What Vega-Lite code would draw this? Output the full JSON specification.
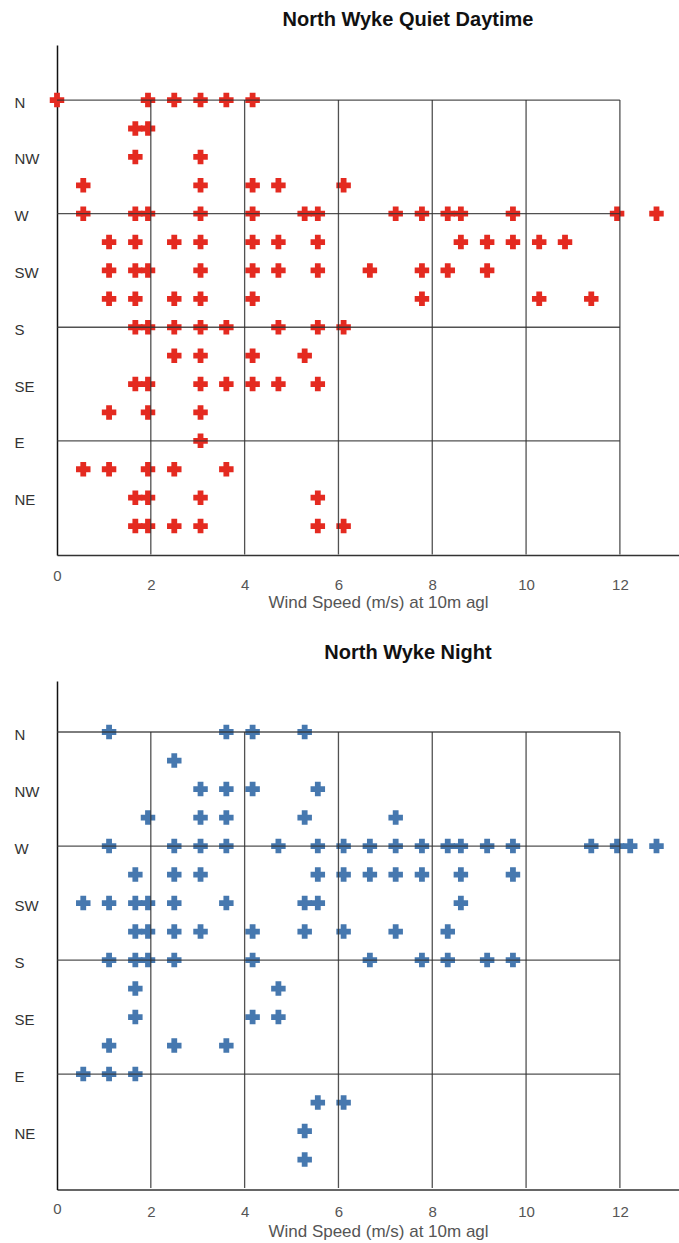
{
  "$schema": "https://vega.github.io/schema/vega-lite/v6.json",
  "background": "white",
  "padding": {"left": 14, "top": 10, "right": 0, "bottom": 4},
  "spacing": 32,
  "config": {
    "view": {"stroke": null},
    "font": "Liberation Sans",
    "title": {"font": "Liberation Sans"},
    "axis": {"labelFont": "Liberation Sans", "titleFont": "Liberation Sans"}
  },
  "datasets": {
    "day": [
      {"dir": "N", "row": 0, "speed": 0}, {"dir": "N", "row": 0, "speed": 1.94}, {"dir": "N", "row": 0, "speed": 2.5}, {"dir": "N", "row": 0, "speed": 3.06}, {"dir": "N", "row": 0, "speed": 3.61}, {"dir": "N", "row": 0, "speed": 4.17},
      {"dir": "NNW", "row": 1, "speed": 1.67}, {"dir": "NNW", "row": 1, "speed": 1.94},
      {"dir": "NW", "row": 2, "speed": 1.67}, {"dir": "NW", "row": 2, "speed": 3.06},
      {"dir": "WNW", "row": 3, "speed": 0.56}, {"dir": "WNW", "row": 3, "speed": 3.06}, {"dir": "WNW", "row": 3, "speed": 4.17}, {"dir": "WNW", "row": 3, "speed": 4.72}, {"dir": "WNW", "row": 3, "speed": 6.11},
      {"dir": "W", "row": 4, "speed": 0.56}, {"dir": "W", "row": 4, "speed": 1.67}, {"dir": "W", "row": 4, "speed": 1.94}, {"dir": "W", "row": 4, "speed": 3.06}, {"dir": "W", "row": 4, "speed": 4.17}, {"dir": "W", "row": 4, "speed": 5.28}, {"dir": "W", "row": 4, "speed": 5.56}, {"dir": "W", "row": 4, "speed": 7.22}, {"dir": "W", "row": 4, "speed": 7.78}, {"dir": "W", "row": 4, "speed": 8.33}, {"dir": "W", "row": 4, "speed": 8.61}, {"dir": "W", "row": 4, "speed": 9.72}, {"dir": "W", "row": 4, "speed": 11.94}, {"dir": "W", "row": 4, "speed": 12.78},
      {"dir": "WSW", "row": 5, "speed": 1.11}, {"dir": "WSW", "row": 5, "speed": 1.67}, {"dir": "WSW", "row": 5, "speed": 2.5}, {"dir": "WSW", "row": 5, "speed": 3.06}, {"dir": "WSW", "row": 5, "speed": 4.17}, {"dir": "WSW", "row": 5, "speed": 4.72}, {"dir": "WSW", "row": 5, "speed": 5.56}, {"dir": "WSW", "row": 5, "speed": 8.61}, {"dir": "WSW", "row": 5, "speed": 9.17}, {"dir": "WSW", "row": 5, "speed": 9.72}, {"dir": "WSW", "row": 5, "speed": 10.28}, {"dir": "WSW", "row": 5, "speed": 10.83},
      {"dir": "SW", "row": 6, "speed": 1.11}, {"dir": "SW", "row": 6, "speed": 1.67}, {"dir": "SW", "row": 6, "speed": 1.94}, {"dir": "SW", "row": 6, "speed": 3.06}, {"dir": "SW", "row": 6, "speed": 4.17}, {"dir": "SW", "row": 6, "speed": 4.72}, {"dir": "SW", "row": 6, "speed": 5.56}, {"dir": "SW", "row": 6, "speed": 6.67}, {"dir": "SW", "row": 6, "speed": 7.78}, {"dir": "SW", "row": 6, "speed": 8.33}, {"dir": "SW", "row": 6, "speed": 9.17},
      {"dir": "SSW", "row": 7, "speed": 1.11}, {"dir": "SSW", "row": 7, "speed": 1.67}, {"dir": "SSW", "row": 7, "speed": 2.5}, {"dir": "SSW", "row": 7, "speed": 3.06}, {"dir": "SSW", "row": 7, "speed": 4.17}, {"dir": "SSW", "row": 7, "speed": 7.78}, {"dir": "SSW", "row": 7, "speed": 10.28}, {"dir": "SSW", "row": 7, "speed": 11.39},
      {"dir": "S", "row": 8, "speed": 1.67}, {"dir": "S", "row": 8, "speed": 1.94}, {"dir": "S", "row": 8, "speed": 2.5}, {"dir": "S", "row": 8, "speed": 3.06}, {"dir": "S", "row": 8, "speed": 3.61}, {"dir": "S", "row": 8, "speed": 4.72}, {"dir": "S", "row": 8, "speed": 5.56}, {"dir": "S", "row": 8, "speed": 6.11},
      {"dir": "SSE", "row": 9, "speed": 2.5}, {"dir": "SSE", "row": 9, "speed": 3.06}, {"dir": "SSE", "row": 9, "speed": 4.17}, {"dir": "SSE", "row": 9, "speed": 5.28},
      {"dir": "SE", "row": 10, "speed": 1.67}, {"dir": "SE", "row": 10, "speed": 1.94}, {"dir": "SE", "row": 10, "speed": 3.06}, {"dir": "SE", "row": 10, "speed": 3.61}, {"dir": "SE", "row": 10, "speed": 4.17}, {"dir": "SE", "row": 10, "speed": 4.72}, {"dir": "SE", "row": 10, "speed": 5.56},
      {"dir": "ESE", "row": 11, "speed": 1.11}, {"dir": "ESE", "row": 11, "speed": 1.94}, {"dir": "ESE", "row": 11, "speed": 3.06},
      {"dir": "E", "row": 12, "speed": 3.06},
      {"dir": "ENE", "row": 13, "speed": 0.56}, {"dir": "ENE", "row": 13, "speed": 1.11}, {"dir": "ENE", "row": 13, "speed": 1.94}, {"dir": "ENE", "row": 13, "speed": 2.5}, {"dir": "ENE", "row": 13, "speed": 3.61},
      {"dir": "NE", "row": 14, "speed": 1.67}, {"dir": "NE", "row": 14, "speed": 1.94}, {"dir": "NE", "row": 14, "speed": 3.06}, {"dir": "NE", "row": 14, "speed": 5.56},
      {"dir": "NNE", "row": 15, "speed": 1.67}, {"dir": "NNE", "row": 15, "speed": 1.94}, {"dir": "NNE", "row": 15, "speed": 2.5}, {"dir": "NNE", "row": 15, "speed": 3.06}, {"dir": "NNE", "row": 15, "speed": 5.56}, {"dir": "NNE", "row": 15, "speed": 6.11}
    ],
    "night": [
      {"dir": "N", "row": 0, "speed": 1.11}, {"dir": "N", "row": 0, "speed": 3.61}, {"dir": "N", "row": 0, "speed": 4.17}, {"dir": "N", "row": 0, "speed": 5.28},
      {"dir": "NNW", "row": 1, "speed": 2.5},
      {"dir": "NW", "row": 2, "speed": 3.06}, {"dir": "NW", "row": 2, "speed": 3.61}, {"dir": "NW", "row": 2, "speed": 4.17}, {"dir": "NW", "row": 2, "speed": 5.56},
      {"dir": "WNW", "row": 3, "speed": 1.94}, {"dir": "WNW", "row": 3, "speed": 3.06}, {"dir": "WNW", "row": 3, "speed": 3.61}, {"dir": "WNW", "row": 3, "speed": 5.28}, {"dir": "WNW", "row": 3, "speed": 7.22},
      {"dir": "W", "row": 4, "speed": 1.11}, {"dir": "W", "row": 4, "speed": 2.5}, {"dir": "W", "row": 4, "speed": 3.06}, {"dir": "W", "row": 4, "speed": 3.61}, {"dir": "W", "row": 4, "speed": 4.72}, {"dir": "W", "row": 4, "speed": 5.56}, {"dir": "W", "row": 4, "speed": 6.11}, {"dir": "W", "row": 4, "speed": 6.67}, {"dir": "W", "row": 4, "speed": 7.22}, {"dir": "W", "row": 4, "speed": 7.78}, {"dir": "W", "row": 4, "speed": 8.33}, {"dir": "W", "row": 4, "speed": 8.61}, {"dir": "W", "row": 4, "speed": 9.17}, {"dir": "W", "row": 4, "speed": 9.72}, {"dir": "W", "row": 4, "speed": 11.39}, {"dir": "W", "row": 4, "speed": 11.94}, {"dir": "W", "row": 4, "speed": 12.22}, {"dir": "W", "row": 4, "speed": 12.78},
      {"dir": "WSW", "row": 5, "speed": 1.67}, {"dir": "WSW", "row": 5, "speed": 2.5}, {"dir": "WSW", "row": 5, "speed": 3.06}, {"dir": "WSW", "row": 5, "speed": 5.56}, {"dir": "WSW", "row": 5, "speed": 6.11}, {"dir": "WSW", "row": 5, "speed": 6.67}, {"dir": "WSW", "row": 5, "speed": 7.22}, {"dir": "WSW", "row": 5, "speed": 7.78}, {"dir": "WSW", "row": 5, "speed": 8.61}, {"dir": "WSW", "row": 5, "speed": 9.72},
      {"dir": "SW", "row": 6, "speed": 0.56}, {"dir": "SW", "row": 6, "speed": 1.11}, {"dir": "SW", "row": 6, "speed": 1.67}, {"dir": "SW", "row": 6, "speed": 1.94}, {"dir": "SW", "row": 6, "speed": 2.5}, {"dir": "SW", "row": 6, "speed": 3.61}, {"dir": "SW", "row": 6, "speed": 5.28}, {"dir": "SW", "row": 6, "speed": 5.56}, {"dir": "SW", "row": 6, "speed": 8.61},
      {"dir": "SSW", "row": 7, "speed": 1.67}, {"dir": "SSW", "row": 7, "speed": 1.94}, {"dir": "SSW", "row": 7, "speed": 2.5}, {"dir": "SSW", "row": 7, "speed": 3.06}, {"dir": "SSW", "row": 7, "speed": 4.17}, {"dir": "SSW", "row": 7, "speed": 5.28}, {"dir": "SSW", "row": 7, "speed": 6.11}, {"dir": "SSW", "row": 7, "speed": 7.22}, {"dir": "SSW", "row": 7, "speed": 8.33},
      {"dir": "S", "row": 8, "speed": 1.11}, {"dir": "S", "row": 8, "speed": 1.67}, {"dir": "S", "row": 8, "speed": 1.94}, {"dir": "S", "row": 8, "speed": 2.5}, {"dir": "S", "row": 8, "speed": 4.17}, {"dir": "S", "row": 8, "speed": 6.67}, {"dir": "S", "row": 8, "speed": 7.78}, {"dir": "S", "row": 8, "speed": 8.33}, {"dir": "S", "row": 8, "speed": 9.17}, {"dir": "S", "row": 8, "speed": 9.72},
      {"dir": "SSE", "row": 9, "speed": 1.67}, {"dir": "SSE", "row": 9, "speed": 4.72},
      {"dir": "SE", "row": 10, "speed": 1.67}, {"dir": "SE", "row": 10, "speed": 4.17}, {"dir": "SE", "row": 10, "speed": 4.72},
      {"dir": "ESE", "row": 11, "speed": 1.11}, {"dir": "ESE", "row": 11, "speed": 2.5}, {"dir": "ESE", "row": 11, "speed": 3.61},
      {"dir": "E", "row": 12, "speed": 0.56}, {"dir": "E", "row": 12, "speed": 1.11}, {"dir": "E", "row": 12, "speed": 1.67},
      {"dir": "ENE", "row": 13, "speed": 5.56}, {"dir": "ENE", "row": 13, "speed": 6.11},
      {"dir": "NE", "row": 14, "speed": 5.28},
      {"dir": "NNE", "row": 15, "speed": 5.28}
    ],
    "hlines": [{"row": 0}, {"row": 4}, {"row": 8}, {"row": 12}],
    "vlines": [{"speed": 2}, {"speed": 4}, {"speed": 6}, {"speed": 8}, {"speed": 10}, {"speed": 12}]
  },
  "vconcat": [
    {
      "width": 622,
      "height": 510,
      "title": {"text": "North Wyke Quiet Daytime", "fontSize": 20, "fontWeight": "bold", "color": "#111", "anchor": "middle", "frame": "group", "dx": 40, "offset": 15},
      "layer": [
        {
          "data": {"name": "day"},
          "mark": {"type": "point", "shape": "cross", "filled": true, "size": 210, "color": "#e42a20", "opacity": 1, "strokeWidth": 0},
          "encoding": {
            "x": {
              "field": "speed", "type": "quantitative",
              "scale": {"domain": [0, 13.26], "nice": false, "zero": false},
              "axis": {
                "values": [0, 2, 4, 6, 8, 10, 12], "grid": false, "ticks": false, "tickSize": 0,
                "domainColor": "#333", "domainWidth": 1.5,
                "labelFontSize": 15, "labelColor": "#555", "labelFlush": false, "labelOverlap": false,
                "labelPadding": {"condition": {"test": "datum.value === 0", "value": 13}, "value": 22.5},
                "title": "Wind Speed (m/s) at 10m agl", "titleFontSize": 17, "titleFontWeight": "normal", "titleColor": "#555",
                "titleX": 321, "titleY": 39.5, "titleBaseline": "top"
              }
            },
            "y": {
              "field": "row", "type": "quantitative",
              "scale": {"domain": [-1.94, 16.02], "reverse": true, "nice": false, "zero": false},
              "axis": {
                "values": [0, 2, 4, 6, 8, 10, 12, 14],
                "labelExpr": "['N','NW','W','SW','S','SE','E','NE'][round(datum.value/2)]",
                "grid": false, "ticks": false, "tickSize": 0,
                "domainColor": "#111", "domainWidth": 1.5,
                "labelAlign": "left", "labelBaseline": "middle", "labelPadding": 43, "labelOffset": 2,
                "labelFontSize": 15, "labelColor": "#333", "labelFlush": false, "labelOverlap": false,
                "title": null
              }
            }
          }
        },
        {
          "data": {"name": "hlines"},
          "mark": {"type": "rule", "color": "#333", "strokeWidth": 1.3, "opacity": 0.85},
          "encoding": {"y": {"field": "row", "type": "quantitative"}, "x": {"datum": 0}, "x2": {"datum": 12}}
        },
        {
          "data": {"name": "vlines"},
          "mark": {"type": "rule", "color": "#333", "strokeWidth": 1.3, "opacity": 0.85},
          "encoding": {"x": {"field": "speed", "type": "quantitative"}, "y": {"datum": 0}, "y2": {"datum": 16}}
        }
      ]
    },
    {
      "width": 622,
      "height": 508.5,
      "title": {"text": "North Wyke Night", "fontSize": 20, "fontWeight": "bold", "color": "#111", "anchor": "middle", "frame": "group", "dx": 40, "offset": 17.6},
      "layer": [
        {
          "data": {"name": "night"},
          "mark": {"type": "point", "shape": "cross", "filled": true, "size": 210, "color": "#4678af", "opacity": 1, "strokeWidth": 0},
          "encoding": {
            "x": {
              "field": "speed", "type": "quantitative",
              "scale": {"domain": [0, 13.26], "nice": false, "zero": false},
              "axis": {
                "values": [0, 2, 4, 6, 8, 10, 12], "grid": false, "ticks": false, "tickSize": 0,
                "domainColor": "#333", "domainWidth": 1.5,
                "labelFontSize": 15, "labelColor": "#555", "labelFlush": false, "labelOverlap": false,
                "labelPadding": {"condition": {"test": "datum.value === 0", "value": 11.5}, "value": 14.5},
                "title": "Wind Speed (m/s) at 10m agl", "titleFontSize": 17, "titleFontWeight": "normal", "titleColor": "#555",
                "titleX": 321, "titleY": 33.6, "titleBaseline": "top"
              }
            },
            "y": {
              "field": "row", "type": "quantitative",
              "scale": {"domain": [-1.79, 16.05], "reverse": true, "nice": false, "zero": false},
              "axis": {
                "values": [0, 2, 4, 6, 8, 10, 12, 14],
                "labelExpr": "['N','NW','W','SW','S','SE','E','NE'][round(datum.value/2)]",
                "grid": false, "ticks": false, "tickSize": 0,
                "domainColor": "#111", "domainWidth": 1.5,
                "labelAlign": "left", "labelBaseline": "middle", "labelPadding": 43, "labelOffset": 2,
                "labelFontSize": 15, "labelColor": "#333", "labelFlush": false, "labelOverlap": false,
                "title": null
              }
            }
          }
        },
        {
          "data": {"name": "hlines"},
          "mark": {"type": "rule", "color": "#333", "strokeWidth": 1.3, "opacity": 0.85},
          "encoding": {"y": {"field": "row", "type": "quantitative"}, "x": {"datum": 0}, "x2": {"datum": 12}}
        },
        {
          "data": {"name": "vlines"},
          "mark": {"type": "rule", "color": "#333", "strokeWidth": 1.3, "opacity": 0.85},
          "encoding": {"x": {"field": "speed", "type": "quantitative"}, "y": {"datum": 0}, "y2": {"datum": 16}}
        }
      ]
    }
  ],
  "resolve": {"scale": {"x": "independent", "y": "independent"}}
}
